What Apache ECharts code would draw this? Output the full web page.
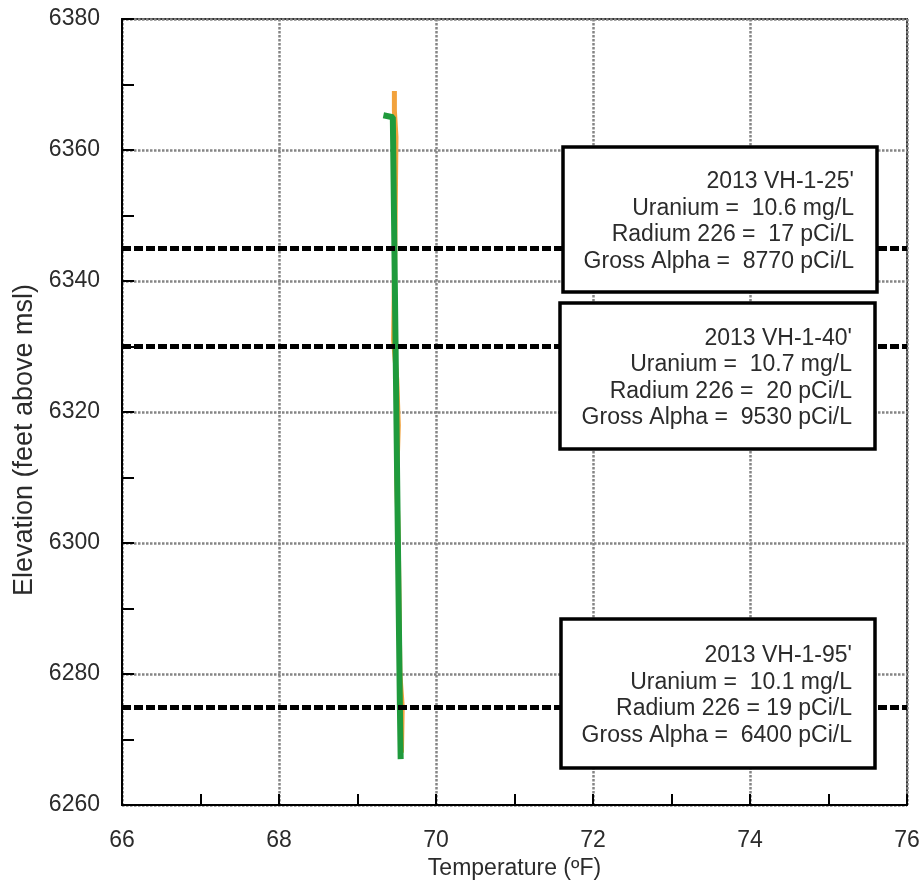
<!DOCTYPE html>
<html>
<head>
<meta charset="utf-8">
<script src="https://cdn.jsdelivr.net/npm/echarts/dist/echarts.min.js"></script>
<style>
  html, body { margin: 0; padding: 0; background: #fff; }
  #main { width: 922px; height: 881px; }
</style>
</head>
<body>
<div id="main"></div>
<script>
// temperature profile readings (temp degF, elevation ft)
var orangeTemp = [69.47, 69.47, 69.49, 69.48, 69.47, 69.46, 69.50, 69.52, 69.50, 69.52, 69.53, 69.54, 69.57, 69.56];
var orangeElev = [6369, 6366, 6362, 6350, 6340, 6331, 6325, 6318, 6310, 6300, 6290, 6280, 6275, 6268];
var greenTemp = [69.33, 69.45, 69.46, 69.47, 69.48, 69.49, 69.50, 69.51, 69.52, 69.53, 69.54, 69.55];
var greenElev = [6365.3, 6365, 6355, 6345, 6335, 6325, 6315, 6305, 6295, 6285, 6275, 6267];

// sample depths (dashed black lines)
var sampleElev = [6345, 6330, 6275];

// annotation texts
var boxLines = [
  ["2013 VH-1-25'", "Uranium =  10.6 mg/L", "Radium 226 =  17 pCi/L", "Gross Alpha =  8770 pCi/L"],
  ["2013 VH-1-40'", "Uranium =  10.7 mg/L", "Radium 226 =  20 pCi/L", "Gross Alpha =  9530 pCi/L"],
  ["2013 VH-1-95'", "Uranium =  10.1 mg/L", "Radium 226 = 19 pCi/L", "Gross Alpha =  6400 pCi/L"]
];
// box layout in pixels: x, y, w, h
var boxRects = [[563, 147, 314, 145], [560, 303, 315, 146], [561, 619, 314, 149]];

var font = "'Liberation Sans', Arial, sans-serif";
var textColor = "#2b2b2b";

var chart = echarts.init(document.getElementById("main"));

var pairs = function(xs, ys) {
  var out = [];
  for (var i = 0; i < xs.length; i++) out.push([xs[i], ys[i]]);
  return out;
};

var graphics = [];
for (var b = 0; b < boxRects.length; b++) {
  var r = boxRects[b];
  graphics.push({
    type: "rect",
    z: 100,
    shape: { x: r[0], y: r[1], width: r[2], height: r[3] },
    style: { fill: "#fff", stroke: "#000", lineWidth: 3.5 }
  });
  graphics.push({
    type: "text",
    z: 101,
    style: {
      text: boxLines[b].join("\n"),
      x: r[0] + r[2] - 23,
      y: r[1] + r[3] / 2 + 2,
      align: "right",
      verticalAlign: "middle",
      fontSize: 23,
      fontFamily: font,
      lineHeight: 26.5,
      fill: textColor
    }
  });
}

var gridLine = { color: "#858585", width: 2.5, type: [2.5, 1.5] };

var option = {
  animation: false,
  backgroundColor: "#fff",
  grid: {
    left: 122, right: 15, top: 19, bottom: 76,
    outerBoundsMode: "none",
    containLabel: false,
    show: true, borderColor: "#333", borderWidth: 2
  },
  xAxis: {
    type: "value",
    min: 66, max: 76, interval: 2,
    name: "Temperature (ºF)",
    nameLocation: "middle",
    nameGap: 48,
    nameTextStyle: { fontSize: 23, fontFamily: font, color: textColor },
    axisLine: { lineStyle: { color: "#000", width: 2 } },
    axisTick: { inside: true, length: 11, lineStyle: { color: "#000", width: 2 } },
    minorTick: { show: true, splitNumber: 2, length: 11, lineStyle: { color: "#000", width: 2 } },
    axisLabel: { fontSize: 23, fontFamily: font, color: textColor, margin: 24 },
    splitLine: { lineStyle: gridLine }
  },
  yAxis: {
    type: "value",
    min: 6260, max: 6380, interval: 20,
    name: "Elevation (feet above msl)",
    nameLocation: "middle",
    nameGap: 82,
    nameTextStyle: { fontSize: 27, fontFamily: font, color: textColor, padding: [0, 56, 0, 0] },
    axisLine: { lineStyle: { color: "#000", width: 2 } },
    axisTick: { inside: true, length: 12, lineStyle: { color: "#000", width: 2 } },
    minorTick: { show: true, splitNumber: 2, length: 12, lineStyle: { color: "#000", width: 2 } },
    axisLabel: {
      fontSize: 23, fontFamily: font, color: textColor, margin: 22,
      formatter: function(v) { return String(v); }
    },
    splitLine: { lineStyle: gridLine }
  },
  series: [
    {
      type: "line",
      data: pairs(orangeTemp, orangeElev),
      symbol: "none",
      lineStyle: { color: "#f2a23c", width: 5 },
      z: 3,
      markLine: {
        silent: true,
        symbol: ["none", "none"],
        label: { show: false },
        lineStyle: { color: "#000", width: 5, type: [9, 3] },
        data: sampleElev.map(function(v) { return { yAxis: v }; })
      }
    },
    {
      type: "line",
      data: pairs(greenTemp, greenElev),
      symbol: "none",
      lineStyle: { color: "#1f9a3c", width: 6 },
      z: 4
    }
  ],
  graphic: graphics
};

chart.setOption(option);
window.onresize = function() {
  chart.resize();
};
</script>
</body>
</html>
